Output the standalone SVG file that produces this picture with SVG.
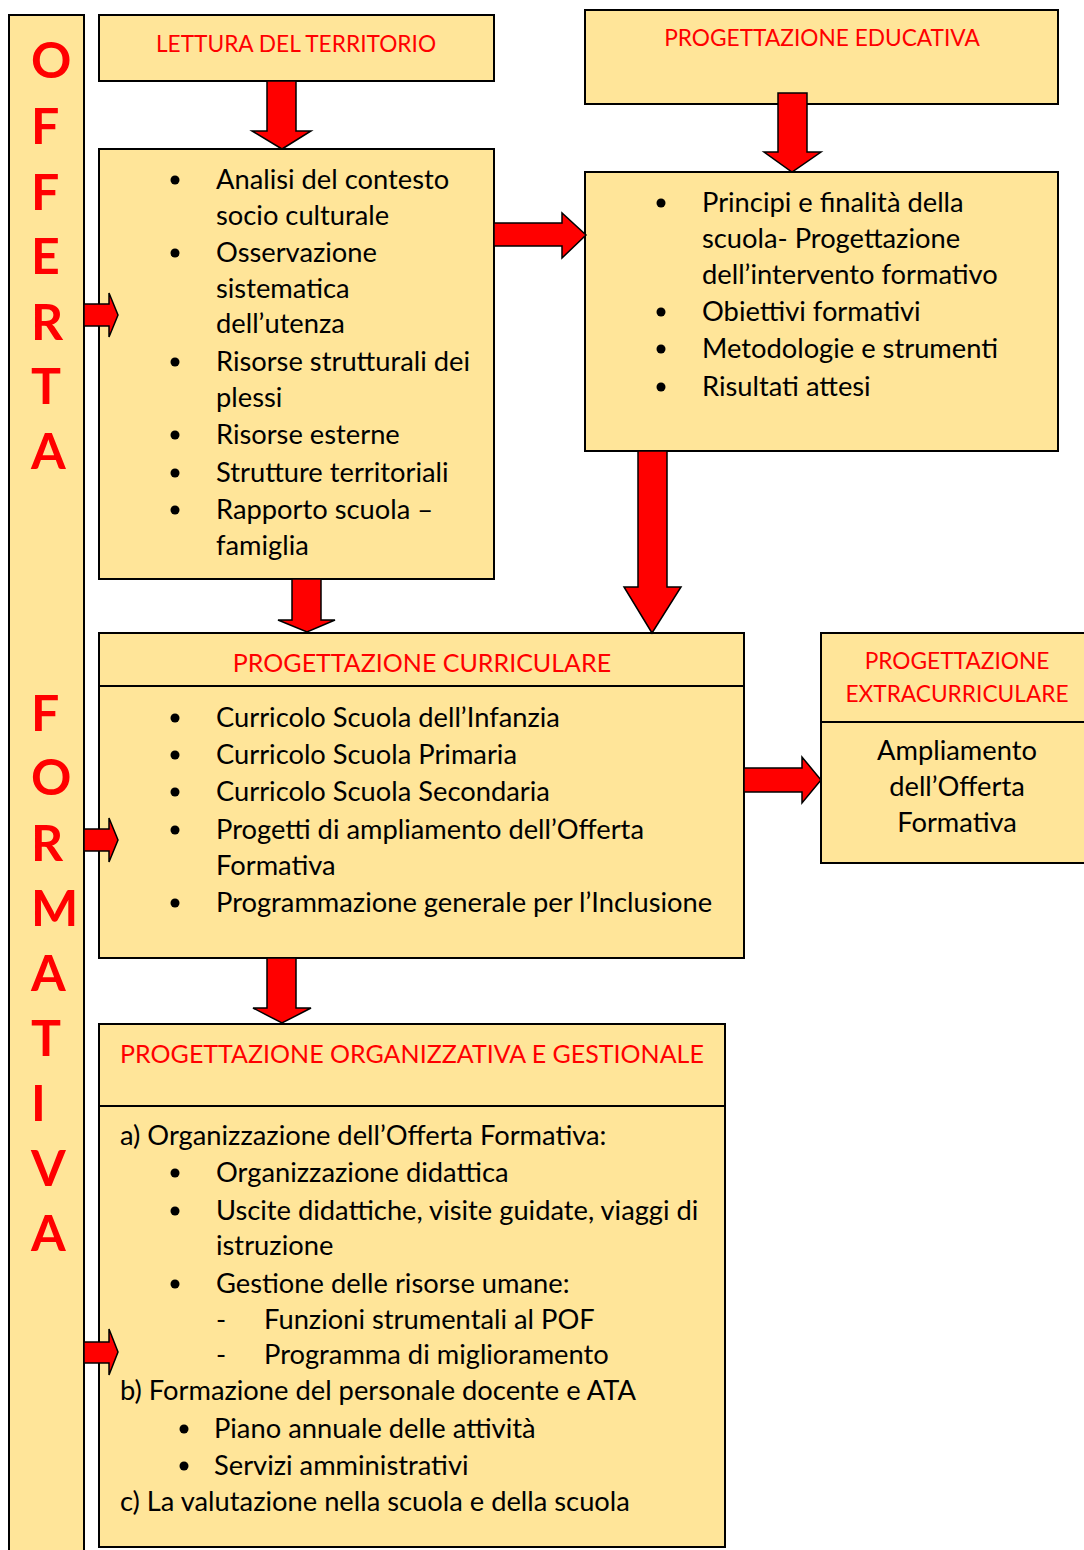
<svg xmlns="http://www.w3.org/2000/svg" width="1084" height="1550" viewBox="0 0 1084 1550">
<style>
.box{fill:#FFE599;stroke:#000;stroke-width:2}
.div{stroke:#000;stroke-width:2}
.arr{fill:#FF0000;stroke:#000;stroke-width:1.5;stroke-linejoin:miter}
.t{font-family:Lato,"Open Sans",sans-serif;font-size:27.3px;fill:#000}
.h{font-family:Lato,"Open Sans",sans-serif;font-size:22.7px;fill:#FF0000}
.h2{font-size:25px}
.c{text-anchor:middle}
.big{font-family:Lato,"Open Sans",sans-serif;font-size:50px;font-weight:bold;fill:#FF0000}
.dot{fill:#000}
</style>
<rect width="1084" height="1550" fill="#fff"/>
<g id="side">
<rect class="box" x="9" y="15" width="75" height="1545"/>
<text class="big" x="31" y="78">O</text>
<text class="big" x="31" y="144">F</text>
<text class="big" x="31" y="210">F</text>
<text class="big" x="31" y="274">E</text>
<text class="big" x="31" y="340">R</text>
<text class="big" x="31" y="404">T</text>
<text class="big" x="31" y="469">A</text>
<text class="big" x="31" y="731">F</text>
<text class="big" x="31" y="795">O</text>
<text class="big" x="31" y="861">R</text>
<text class="big" x="31" y="926">M</text>
<text class="big" x="31" y="991">A</text>
<text class="big" x="31" y="1056">T</text>
<text class="big" x="31" y="1121">I</text>
<text class="big" x="31" y="1186">V</text>
<text class="big" x="31" y="1251">A</text>
</g>
<g id="lettura">
<rect class="box" x="99" y="15" width="395" height="66"/>
<text class="h c" x="296" y="52">LETTURA DEL TERRITORIO</text>
</g>
<g id="educativa">
<rect class="box" x="585" y="10" width="473" height="94"/>
<text class="h c" x="822" y="46">PROGETTAZIONE EDUCATIVA</text>
</g>
<g id="analisi">
<rect class="box" x="99" y="149" width="395" height="430"/>
<g class="dot"><circle cx="175" cy="180" r="4.5"/><circle cx="175" cy="253" r="4.5"/><circle cx="175" cy="362" r="4.5"/><circle cx="175" cy="435" r="4.5"/><circle cx="175" cy="473" r="4.5"/><circle cx="175" cy="510" r="4.5"/></g>
<text class="t" x="216" y="189">Analisi del contesto</text>
<text class="t" x="216" y="225">socio culturale</text>
<text class="t" x="216" y="262">Osservazione</text>
<text class="t" x="216" y="298">sistematica</text>
<text class="t" x="216" y="333">dell’utenza</text>
<text class="t" x="216" y="371">Risorse strutturali dei</text>
<text class="t" x="216" y="407">plessi</text>
<text class="t" x="216" y="444">Risorse esterne</text>
<text class="t" x="216" y="482">Strutture territoriali</text>
<text class="t" x="216" y="519">Rapporto scuola –</text>
<text class="t" x="216" y="555">famiglia</text>
</g>
<g id="principi">
<rect class="box" x="585" y="172" width="473" height="279"/>
<g class="dot"><circle cx="661" cy="203" r="4.5"/><circle cx="661" cy="312" r="4.5"/><circle cx="661" cy="349" r="4.5"/><circle cx="661" cy="387" r="4.5"/></g>
<text class="t" x="702" y="212">Principi e finalità della</text>
<text class="t" x="702" y="248">scuola- Progettazione</text>
<text class="t" x="702" y="284">dell’intervento formativo</text>
<text class="t" x="702" y="321">Obiettivi formativi</text>
<text class="t" x="702" y="358">Metodologie e strumenti</text>
<text class="t" x="702" y="396">Risultati attesi</text>
</g>
<g id="curricolare">
<rect class="box" x="99" y="633" width="645" height="325"/>
<line class="div" x1="99" y1="686" x2="744" y2="686"/>
<text class="h h2 c" x="422" y="672">PROGETTAZIONE CURRICULARE</text>
<g class="dot"><circle cx="175" cy="718" r="4.5"/><circle cx="175" cy="755" r="4.5"/><circle cx="175" cy="792" r="4.5"/><circle cx="175" cy="830" r="4.5"/><circle cx="175" cy="903" r="4.5"/></g>
<text class="t" x="216" y="727">Curricolo Scuola dell’Infanzia</text>
<text class="t" x="216" y="764">Curricolo Scuola Primaria</text>
<text class="t" x="216" y="801">Curricolo Scuola Secondaria</text>
<text class="t" x="216" y="839">Progetti di ampliamento dell’Offerta</text>
<text class="t" x="216" y="875">Formativa</text>
<text class="t" x="216" y="912">Programmazione generale per l’Inclusione</text>
</g>
<g id="extracurriculare">
<rect class="box" x="821" y="633" width="270" height="230"/>
<line class="div" x1="821" y1="722" x2="1091" y2="722"/>
<text class="h c" x="957" y="669">PROGETTAZIONE</text>
<text class="h c" x="957" y="702">EXTRACURRICULARE</text>
<text class="t c" x="957" y="760">Ampliamento</text>
<text class="t c" x="957" y="796">dell’Offerta</text>
<text class="t c" x="957" y="832">Formativa</text>
</g>
<g id="organizzativa">
<rect class="box" x="99" y="1024" width="626" height="523"/>
<line class="div" x1="99" y1="1106" x2="725" y2="1106"/>
<text class="h h2 c" x="412" y="1063">PROGETTAZIONE ORGANIZZATIVA E GESTIONALE</text>
<text class="t" x="120" y="1145">a) Organizzazione dell’Offerta Formativa:</text>
<g class="dot"><circle cx="175" cy="1173" r="4.5"/><circle cx="175" cy="1211" r="4.5"/><circle cx="175" cy="1284" r="4.5"/><circle cx="184" cy="1429" r="4.5"/><circle cx="184" cy="1466" r="4.5"/></g>
<text class="t" x="216" y="1182">Organizzazione didattica</text>
<text class="t" x="216" y="1220">Uscite didattiche, visite guidate, viaggi di</text>
<text class="t" x="216" y="1255">istruzione</text>
<text class="t" x="216" y="1293">Gestione delle risorse umane:</text>
<text class="t" x="216" y="1329">-</text>
<text class="t" x="264" y="1329">Funzioni strumentali al POF</text>
<text class="t" x="216" y="1364">-</text>
<text class="t" x="264" y="1364">Programma di miglioramento</text>
<text class="t" x="120" y="1400">b) Formazione del personale docente e ATA</text>
<text class="t" x="214" y="1438">Piano annuale delle attività</text>
<text class="t" x="214" y="1475">Servizi amministrativi</text>
<text class="t" x="120" y="1511">c) La valutazione nella scuola e della scuola</text>
</g>
<g id="connectors">
<polygon class="arr" points="267,81 296,81 296,131 311,131 282,149 252,131 267,131"/>
<polygon class="arr" points="494,223 562,223 562,213 586,235 562,258 562,246 494,246"/>
<polygon class="arr" points="778,93 807,93 807,152 821,152 792,172 764,152 778,152"/>
<polygon class="arr" points="638,451 667,451 667,587 681,587 652,633 624,587 638,587"/>
<polygon class="arr" points="292,579 321,579 321,620 335,620 307,632 278,620 292,620"/>
<polygon class="arr" points="744,768 802,768 802,757 821,780 802,803 802,792 744,792"/>
<polygon class="arr" points="267,958 296,958 296,1008 311,1008 282,1023 253,1008 267,1008"/>
<polygon class="arr" points="84,304 109,304 109,293 118,315 109,337 109,326 84,326"/>
<polygon class="arr" points="84,829 109,829 109,818 118,840 109,862 109,851 84,851"/>
<polygon class="arr" points="84,1342 109,1342 109,1329 118,1352 109,1375 109,1363 84,1363"/>
</g>
</svg>
